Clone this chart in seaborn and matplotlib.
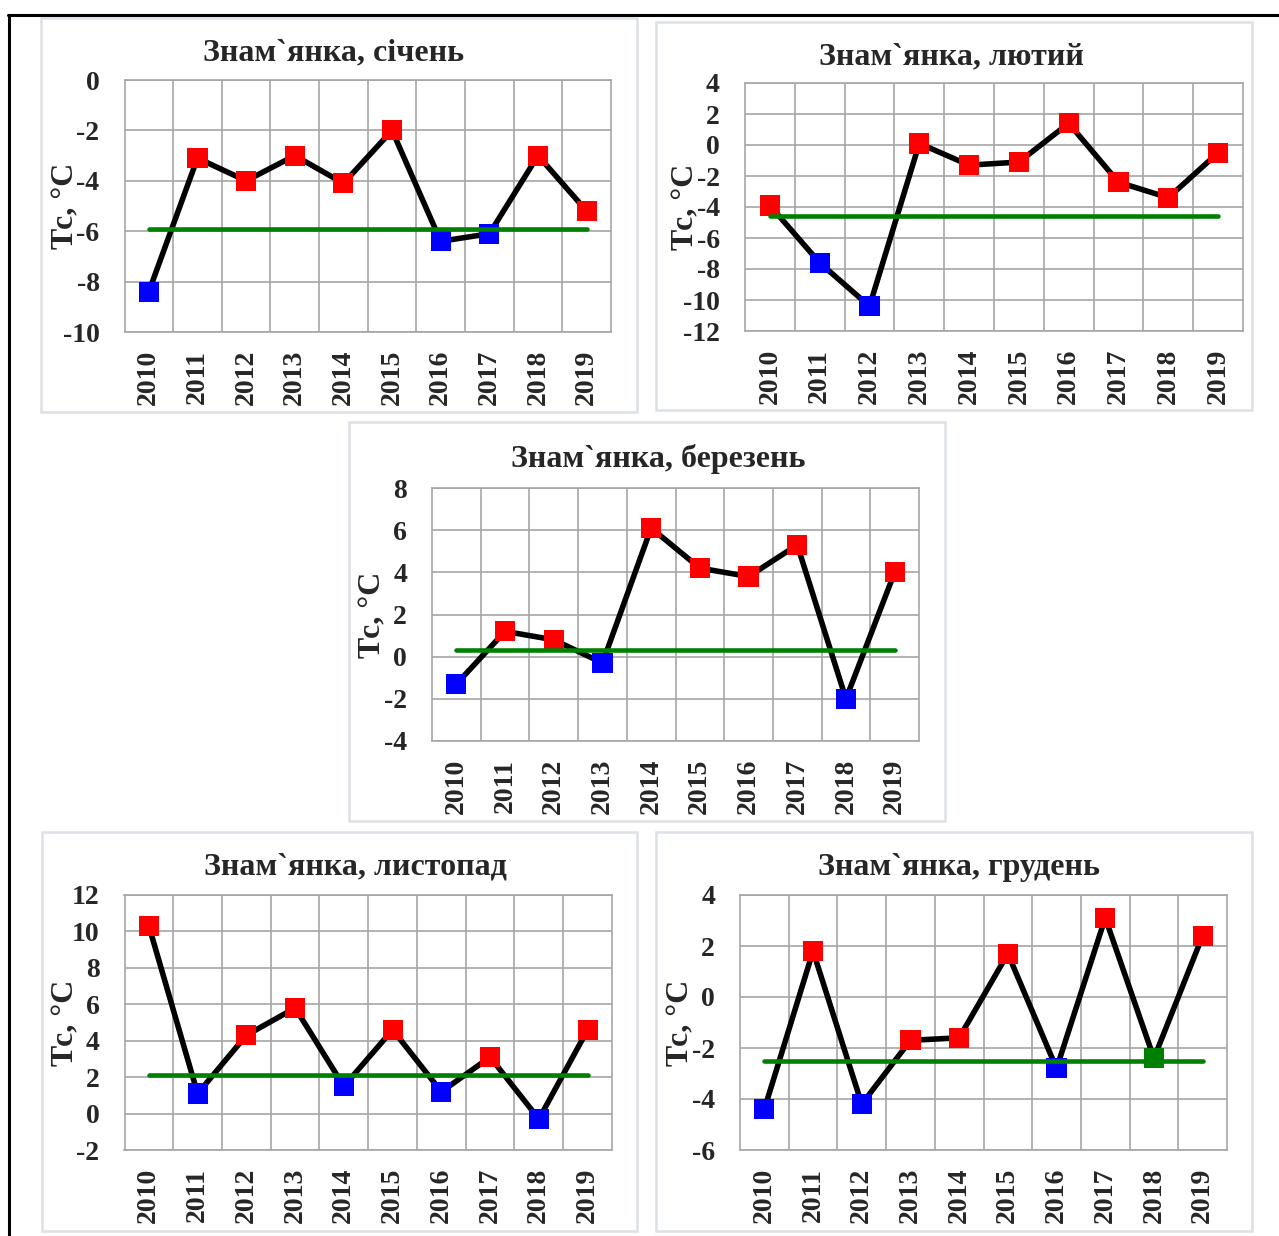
import matplotlib
matplotlib.use("Agg")
import matplotlib.pyplot as plt
import seaborn as sns
import pandas as pd
from matplotlib.patches import Rectangle
from matplotlib.lines import Line2D

# ---------------- data ----------------
years = [2010, 2011, 2012, 2013, 2014, 2015, 2016, 2017, 2018, 2019]

jan_t = [-8.4, -3.1, -4.0, -3.0, -4.1, -2.0, -6.4, -6.1, -3.0, -5.2]
feb_t = [-3.9, -7.6, -10.4, 0.1, -1.3, -1.1, 1.4, -2.4, -3.4, -0.5]
mar_t = [-1.3, 1.2, 0.8, -0.3, 6.1, 4.2, 3.8, 5.3, -2.0, 4.0]
nov_t = [10.3, 1.1, 4.3, 5.8, 1.5, 4.6, 1.2, 3.1, -0.3, 4.6]
dec_t = [-4.4, 1.8, -4.2, -1.7, -1.6, 1.7, -2.8, 3.1, -2.4, 2.4]

jan_norm = -5.9
feb_norm = -4.6
mar_norm = 0.3
nov_norm = 2.1
dec_norm = -2.5

jan_cls = ["below", "above", "above", "above", "above", "above", "below", "below", "above", "above"]
feb_cls = ["above", "below", "below", "above", "above", "above", "above", "above", "above", "above"]
mar_cls = ["below", "above", "above", "below", "above", "above", "above", "above", "below", "above"]
nov_cls = ["above", "below", "above", "above", "below", "above", "below", "above", "below", "above"]
dec_cls = ["below", "above", "below", "above", "above", "above", "below", "above", "norm", "above"]

titles = ["Знам`янка, січень", "Знам`янка, лютий", "Знам`янка, березень",
          "Знам`янка, листопад", "Знам`янка, грудень"]
ylabel = "Тс, °С"

jan_yticks = [0, -2, -4, -6, -8, -10]
feb_yticks = [4, 2, 0, -2, -4, -6, -8, -10, -12]
mar_yticks = [8, 6, 4, 2, 0, -2, -4]
nov_yticks = [12, 10, 8, 6, 4, 2, 0, -2]
dec_yticks = [4, 2, 0, -2, -4, -6]

palette = {"above": "#FF0000", "below": "#0000FF", "norm": "#008000"}

# ---------------- layout (pixels) ----------------
W, H = 1279, 1236
sns.set_theme(style="white")
plt.rcParams["font.family"] = ["Liberation Serif", "DejaVu Serif"]
plt.rcParams["font.weight"] = "bold"

fig = plt.figure(figsize=(W / 100, H / 100), dpi=100)
fig.patch.set_facecolor("white")

def fx(x):
    return x / W

def fy(y):
    return 1 - y / H

# outer frame lines
fig.add_artist(Line2D([fx(8), fx(1279)], [fy(15), fy(15)], color="black", lw=2.2))
fig.add_artist(Line2D([fx(8.5), fx(8.5)], [fy(15), fy(1236)], color="black", lw=2.2))

panels = [
    # values, norm, classes, yticks, plot rect (l,t,r,b), box rect (l,t,r,b), title (x,y)
    (jan_t, jan_norm, jan_cls, jan_yticks, (124.5, 80, 611, 332), (41, 18, 637, 412), (334, 53)),
    (feb_t, feb_norm, feb_cls, feb_yticks, (745, 83, 1243, 331), (656, 22, 1252, 410), (951, 57)),
    (mar_t, mar_norm, mar_cls, mar_yticks, (432, 488, 919, 741), (349, 422, 945, 821), (658, 459)),
    (nov_t, nov_norm, nov_cls, nov_yticks, (124.5, 895, 612, 1150), (42, 832, 637, 1231), (355, 867)),
    (dec_t, dec_norm, dec_cls, dec_yticks, (740, 895, 1227, 1150), (656, 832, 1252, 1231), (959, 867)),
]

grid_c = "#A6A6A6"
box_c = "#DCE1E8"

for i, (vals, norm, cls, yt, prect, brect, tpos) in enumerate(panels):
    # panel box
    bl, bt, br, bb = brect
    fig.add_artist(Rectangle((fx(bl), fy(bb)), fx(br) - fx(bl), fy(bt) - fy(bb),
                             fill=False, edgecolor=box_c, lw=1.8, transform=fig.transFigure))
    l, t, r, b = prect
    ax = fig.add_axes([fx(l), fy(b), fx(r) - fx(l), fy(t) - fy(b)])
    ax.set_facecolor("white")
    df = pd.DataFrame({"year": years, "t": vals, "cls": cls})
    sns.lineplot(data=df, x="year", y="t", color="black", lw=4.0, ax=ax, zorder=3)
    sns.scatterplot(data=df, x="year", y="t", hue="cls", palette=palette, marker="s",
                    s=210, linewidth=0, legend=False, ax=ax, zorder=4)
    ndf = pd.DataFrame({"year": [years[0], years[-1]], "t": [norm, norm]})
    sns.lineplot(data=ndf, x="year", y="t", color="#008000", lw=3.3, ax=ax, zorder=5,
                 solid_capstyle="round")
    ax.set_xlim(years[0] - 0.5, years[-1] + 0.5)
    ax.set_ylim(min(yt), max(yt))
    ax.set_xticks(years)
    ax.set_xticklabels([str(y) for y in years], rotation=90, fontsize=20, fontweight="bold")
    ax.set_xticks([y + 0.5 for y in years[:-1]], minor=True)
    ax.set_yticks(yt)
    ax.set_yticklabels([str(v) for v in yt], fontsize=20, fontweight="bold")
    ax.tick_params(axis="x", which="both", length=0, pad=13)
    ax.tick_params(axis="y", which="both", length=0, pad=18)
    ax.grid(False)
    ax.grid(True, axis="x", which="minor", color=grid_c, lw=1.2)
    ax.grid(True, axis="y", which="major", color=grid_c, lw=1.2)
    for sp in ax.spines.values():
        sp.set_color(grid_c)
        sp.set_linewidth(1.2)
    ax.set_xlabel("")
    ax.set_ylabel("")
    ax.text(-59 / (r - l), 0.5, ylabel, transform=ax.transAxes, rotation=90,
            ha="center", va="center", fontsize=23, fontweight="bold")
    fig.text(fx(tpos[0]), fy(tpos[1]), titles[i], ha="center", va="center",
             fontsize=23, fontweight="bold")

fig.savefig("out.png", dpi=100, facecolor="white")
